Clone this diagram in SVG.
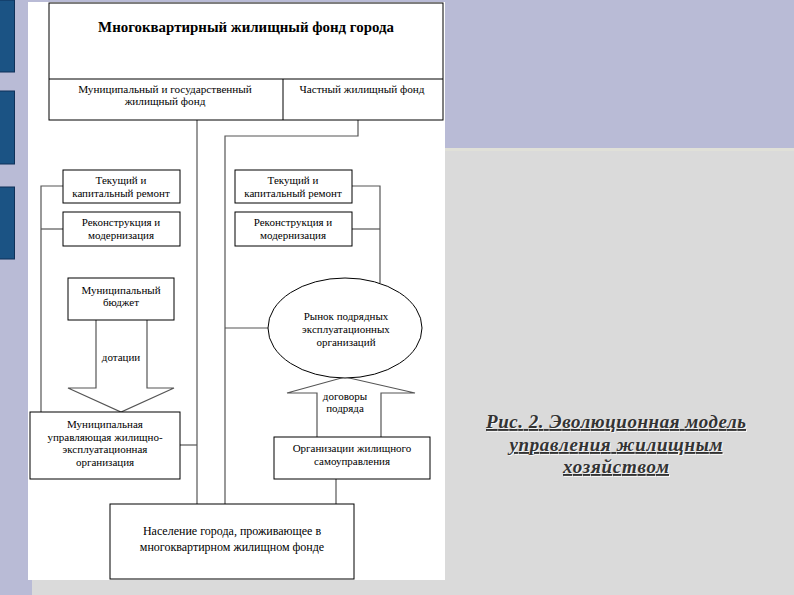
<svg xmlns="http://www.w3.org/2000/svg" width="794" height="595" viewBox="0 0 794 595">
<style>
.box{fill:#fff;stroke:#000;stroke-width:1}
.ln{fill:none;stroke:#555;stroke-width:1.2}
.t{font-family:"Liberation Serif","Times New Roman",serif;font-size:11px;fill:#000;text-anchor:middle}
.cap{font-family:"Liberation Serif","Times New Roman",serif;font-size:19px;font-style:italic;font-weight:bold;fill:#333;text-anchor:middle;text-decoration:underline}
.blue{fill:#1b5384;stroke:#0e3058;stroke-width:1}
</style>
<rect x="0" y="0" width="794" height="595" fill="#b9bbd6"/>
<rect x="445" y="148" width="349" height="447" fill="#dadada"/>
<rect x="445" y="148" width="349" height="3" fill="#e0e0d8"/>
<rect x="32" y="580" width="413" height="15" fill="#dadada"/>
<rect x="28" y="2" width="417" height="578" fill="#fff"/>
<rect class="blue" x="-1" y="0" width="15.5" height="72"/>
<rect class="blue" x="-1" y="91" width="15.5" height="73"/>
<rect class="blue" x="-1" y="187" width="15.5" height="72"/>

<g id="connectors">
<polyline class="ln" points="197,120 197,504"/>
<polyline class="ln" points="358,120 358,136 225,136 225,504"/>
<polyline class="ln" points="63,186 41,186 41,412"/>
<line class="ln" x1="41" y1="229" x2="63" y2="229"/>
<polyline class="ln" points="352,186 380,186 380,283"/>
<line class="ln" x1="352" y1="229" x2="380" y2="229"/>
<line class="ln" x1="225" y1="328" x2="268" y2="328"/>
<line class="ln" x1="180" y1="445" x2="197" y2="445"/>
<line class="ln" x1="336" y1="479" x2="336" y2="504"/>
<polyline class="ln" points="96,320 96,388 68,388 121,412 174,388 147,388 147,320"/>
<polyline class="ln" points="317,437 317,393 287,393 345,377 415,393 381,393 381,437"/>
</g>

<g id="top">
<rect class="box" x="49" y="3" width="394" height="117"/>
<line x1="49" y1="79" x2="443" y2="79" stroke="#000"/>
<line x1="283" y1="79" x2="283" y2="120" stroke="#000"/>
<text class="t" x="246" y="32" style="font-size:14.9px;font-weight:bold">Многоквартирный жилищный фонд города</text>
<text class="t" x="165" y="93" style="font-size:11.2px">Муниципальный и государственный</text>
<text class="t" x="165" y="105" style="font-size:11.2px">жилищный фонд</text>
<text class="t" x="362" y="93" style="font-size:11.2px">Частный жилищный фонд</text>
</g>

<g id="repair-left">
<rect class="box" x="63" y="170" width="117" height="33"/>
<text class="t" x="121" y="184">Текущий и</text>
<text class="t" x="121" y="197">капитальный ремонт</text>
</g>
<g id="recon-left">
<rect class="box" x="63" y="212" width="117" height="34"/>
<text class="t" x="121" y="226">Реконструкция и</text>
<text class="t" x="121" y="239">модернизация</text>
</g>
<g id="repair-right">
<rect class="box" x="235" y="170" width="117" height="33"/>
<text class="t" x="293" y="184">Текущий и</text>
<text class="t" x="293" y="197">капитальный ремонт</text>
</g>
<g id="recon-right">
<rect class="box" x="235" y="212" width="117" height="34"/>
<text class="t" x="293" y="226">Реконструкция и</text>
<text class="t" x="293" y="239">модернизация</text>
</g>

<g id="budget">
<rect class="box" x="68" y="278" width="106" height="42"/>
<text class="t" x="121" y="294">Муниципальный</text>
<text class="t" x="121" y="306">бюджет</text>
</g>
<text class="t" x="121" y="361">дотации</text>

<g id="market">
<ellipse cx="345" cy="328" rx="77" ry="50" fill="#fff" stroke="#000"/>
<text class="t" x="346" y="320">Рынок подрядных</text>
<text class="t" x="346" y="333">эксплуатационных</text>
<text class="t" x="346" y="346">организаций</text>
</g>
<text class="t" x="345" y="400">договоры</text>
<text class="t" x="345" y="412">подряда</text>

<g id="muni-org">
<rect class="box" x="30" y="412" width="150" height="67"/>
<text class="t" x="105" y="428">Муниципальная</text>
<text class="t" x="105" y="441">управляющая жилищно-</text>
<text class="t" x="105" y="453">эксплуатационная</text>
<text class="t" x="105" y="466">организация</text>
</g>

<g id="selfgov">
<rect class="box" x="274" y="437" width="156" height="42"/>
<text class="t" x="352" y="452">Организации жилищного</text>
<text class="t" x="352" y="465">самоуправления</text>
</g>

<g id="population">
<rect class="box" x="110" y="504" width="244" height="75"/>
<text class="t" x="232" y="535" style="font-size:12px">Население города, проживающее в</text>
<text class="t" x="232" y="551" style="font-size:12px">многоквартирном жилищном фонде</text>
</g>

<g id="caption">
<g opacity="0.8" transform="translate(1,1)">
<text class="cap" x="616" y="428" textLength="260" style="fill:#fff">Рис. 2. Эволюционная модель</text>
<text class="cap" x="616" y="451" textLength="213" style="fill:#fff">управления жилищным</text>
<text class="cap" x="616" y="473" textLength="106" style="fill:#fff">хозяйством</text>
</g>
<text class="cap" x="616" y="428" textLength="260">Рис. 2. Эволюционная модель</text>
<text class="cap" x="616" y="451" textLength="213">управления жилищным</text>
<text class="cap" x="616" y="473" textLength="106">хозяйством</text>
</g>
</svg>
